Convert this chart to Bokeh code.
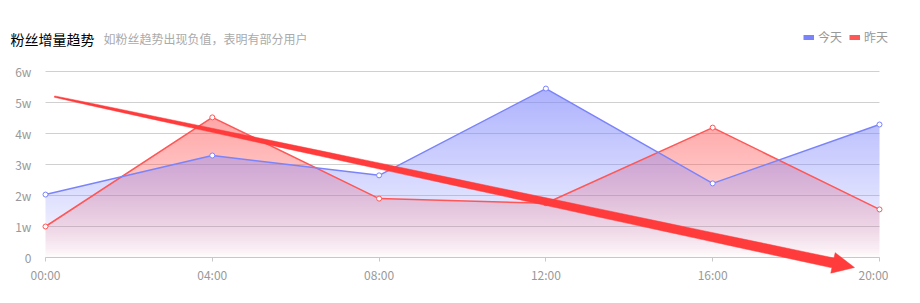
import numpy as np
from bokeh.plotting import figure
from bokeh.models import Range1d, FixedTicker, Label, Legend, LegendItem, PolyAnnotation
from bokeh.embed import file_html
from bokeh.resources import INLINE

# ---------------- data ----------------
hours = ["00:00", "04:00", "08:00", "12:00", "16:00", "20:00"]
today = [20300, 32900, 26500, 54500, 23900, 42900]
yesterday = [10000, 45200, 19000, 17500, 41900, 15500]
y_ticks = [0, 10000, 20000, 30000, 40000, 50000, 60000]
y_tick_labels = ["0", "1w", "2w", "3w", "4w", "5w", "6w"]
title_text = "粉丝增量趋势"
subtitle_text = "如粉丝趋势出现负值，表明有部分用户"
series_names = ["今天", "昨天"]
# annotation arrow (x in category index, y in value)
arrow_start = (0.054, 51900)
arrow_tip = (4.85, -3230)

BLUE = "#7b83fb"
RED = "#ff5656"
ARROW = "#ff3b3b"

# canvas and plotting-area geometry (pixels)
W, H = 888, 303
AREA_L, AREA_R, AREA_T, AREA_B = 45, 879, 71, 257
xs = list(range(len(hours)))
x_px = (AREA_R - AREA_L) / (len(hours) - 1)      # px per category step
y_px = (AREA_B - AREA_T) / float(y_ticks[-1])    # px per value unit

# the frame covers the whole canvas so that the title, legend and arrow are not clipped
p = figure(width=W, height=H, output_backend="svg", toolbar_location=None,
           x_range=Range1d(-AREA_L / x_px, (W - AREA_L) / x_px),
           y_range=Range1d(-(H - AREA_B) / y_px, AREA_B / y_px),
           min_border_left=0, min_border_right=0, min_border_top=0, min_border_bottom=0)
p.outline_line_color = None
p.background_fill_color = "white"
p.xgrid.grid_line_color = None
p.ygrid.grid_line_color = None

p.yaxis.fixed_location = 0
p.yaxis.ticker = FixedTicker(ticks=y_ticks)
p.yaxis.major_label_overrides = {t: s for t, s in zip(y_ticks, y_tick_labels)}
p.yaxis.axis_line_color = None
p.yaxis.major_tick_line_color = None
p.yaxis.minor_tick_line_color = None
p.yaxis.major_label_standoff = 8
p.yaxis.major_label_text_color = "#999999"
p.yaxis.major_label_text_font = "Noto Sans CJK SC"
p.yaxis.major_label_text_font_size = "12px"

p.xaxis.fixed_location = 0
p.xaxis.bounds = (0, len(hours) - 1)
p.xaxis.ticker = FixedTicker(ticks=xs)
p.xaxis.major_label_overrides = {i: h for i, h in enumerate(hours)}
p.xaxis.axis_line_color = "#c8c8c8"
p.xaxis.major_tick_line_color = "#c8c8c8"
p.xaxis.major_tick_in = 0
p.xaxis.major_tick_out = 4
p.xaxis.minor_tick_line_color = None
p.xaxis.major_label_standoff = 4
p.xaxis.major_label_text_color = "#999999"
p.xaxis.major_label_text_font = "Noto Sans CJK SC"
p.xaxis.major_label_text_font_size = "12px"

# horizontal split lines across the plotting area
p.segment(x0=[0] * len(y_ticks), x1=[len(hours) - 1] * len(y_ticks), y0=y_ticks, y1=y_ticks,
          line_color="#d0d0d0", line_width=1)


def band_polyline(x, y, lo, hi):
    """vertices of min(max(y, lo), hi) along the polyline (exact crossings)."""
    px, py = [x[0]], [min(max(y[0], lo), hi)]
    for i in range(len(x) - 1):
        x0, y0, x1, y1 = x[i], y[i], x[i + 1], y[i + 1]
        cuts = []
        for lvl in (lo, hi):
            if (y0 - lvl) * (y1 - lvl) < 0:
                cuts.append((lvl - y0) / (y1 - y0))
        for t in sorted(cuts):
            px.append(x0 + t * (x1 - x0))
            py.append(min(max(y0 + t * (y1 - y0), lo), hi))
        px.append(x1)
        py.append(min(max(y1, lo), hi))
    return px, py


def gradient_area(x, y, color, top_alpha, gamma=1.0, step=2, shift=0.5):
    """vertical gradient fill (strongest at the series max, clear at 0) built from
    horizontal bands whose edges fall on pixel-row boundaries (no seams)."""
    ymax = max(y)
    top_px = ymax * y_px
    edges_px = [0.0] + list(np.arange(step + shift, top_px, step)) + [top_px]
    for k in range(len(edges_px) - 1):
        lo, hi = edges_px[k] / y_px, edges_px[k + 1] / y_px
        mid = (lo + hi) / 2
        a = top_alpha * (mid / ymax) ** gamma
        bx, by = band_polyline(x, y, lo, hi)
        p.varea(x=bx, y1=[lo] * len(bx), y2=by, fill_color=color, fill_alpha=a)


gradient_area(xs, yesterday, RED, 0.52, gamma=0.75)
gradient_area(xs, today, BLUE, 0.62, gamma=0.9)

p.line(xs, yesterday, line_color=RED, line_width=1.5)
p.line(xs, today, line_color=BLUE, line_width=1.5)
p.scatter(xs, yesterday, size=5, fill_color="white", line_color=RED, line_width=1)
p.scatter(xs, today, size=5, fill_color="white", line_color=BLUE, line_width=1)

# ---- arrow annotation (shape computed in pixel space, converted back to data) ----
S = np.array([arrow_start[0] * x_px, arrow_start[1] * y_px])
Tp = np.array([arrow_tip[0] * x_px, arrow_tip[1] * y_px])
d = Tp - S
ln = np.hypot(*d)
u = d / ln
n = np.array([-u[1], u[0]])
head_len, head_half = 22.0, 10.5
shaft_len = ln - head_len
ts = np.linspace(0, 1, 24)
widths = 1.4 + 8.6 * ts ** 0.75
upper = [S + u * shaft_len * t + n * w / 2 for t, w in zip(ts, widths)]
lower = [S + u * shaft_len * t - n * w / 2 for t, w in zip(ts, widths)]
base = S + u * shaft_len
pts = upper + [base + n * head_half, Tp, base - n * head_half] + lower[::-1]
ax = [pt[0] / x_px for pt in pts]
ay = [pt[1] / y_px for pt in pts]
p.add_layout(PolyAnnotation(xs=ax, ys=ay, fill_color=ARROW, fill_alpha=1.0,
                            line_color=ARROW, line_alpha=1.0, line_width=0.5))

# ---- title / subtitle (screen units from the canvas bottom-left) ----
p.add_layout(Label(x=10, y=H - 38, x_units="screen", y_units="screen",
                   text=title_text, text_font="Noto Sans CJK SC", text_font_size="14px",
                   text_color="#000000", text_baseline="middle"))
p.add_layout(Label(x=103, y=H - 38, x_units="screen", y_units="screen",
                   text=subtitle_text, text_font="Noto Sans CJK SC", text_font_size="12px",
                   text_color="#aaaaaa", text_baseline="middle"))

# ---- legend ----
nan = float("nan")
lb = p.line(x=[nan], y=[nan], line_color=BLUE, line_width=5)
lr = p.line(x=[nan], y=[nan], line_color=RED, line_width=5)
legend = Legend(items=[LegendItem(label=series_names[0], renderers=[lb]),
                       LegendItem(label=series_names[1], renderers=[lr])],
                orientation="horizontal", location=(803, H - 45),
                glyph_width=11, glyph_height=14, label_standoff=4, spacing=7,
                padding=0, margin=0, border_line_color=None, background_fill_alpha=0,
                label_text_font="Noto Sans CJK SC", label_text_font_size="12px",
                label_text_color="#999999", label_height=14)
p.add_layout(legend, "center")

open("out.html", "w").write(file_html(p, INLINE))
